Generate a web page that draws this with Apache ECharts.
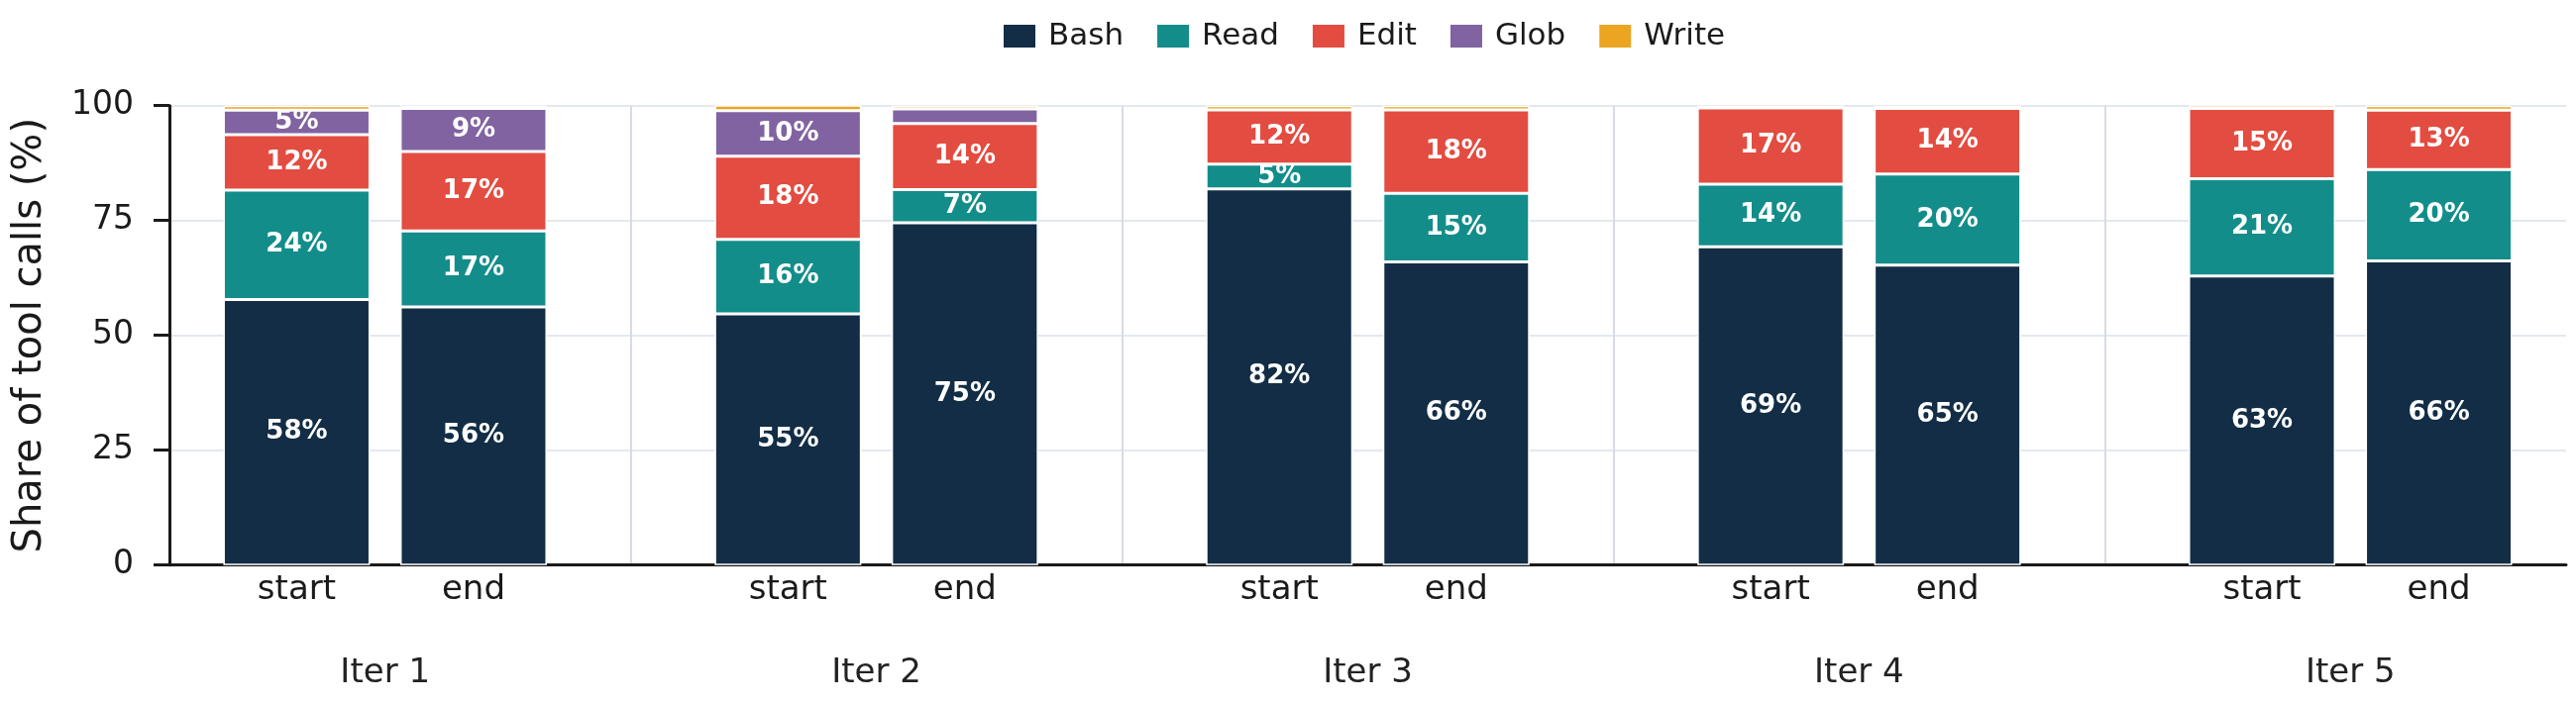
<!DOCTYPE html>
<html lang="en">
<head>
<meta charset="UTF-8">
<title>Share of tool calls by iteration</title>
<script src="https://cdn.jsdelivr.net/npm/echarts@6/dist/echarts.min.js"></script>
<style>
  html, body { margin: 0; padding: 0; background: #fff; }
  #chart { width: 2600px; height: 711px; }
</style>
</head>
<body>
<div id="chart"></div>
<script>
  // categories
  var iterations = ['Iter 1', 'Iter 2', 'Iter 3', 'Iter 4', 'Iter 5'];
  var phases = ['start', 'end'];
  var tools = ['Bash', 'Read', 'Edit', 'Glob', 'Write'];
  var colors = ['#122d45', '#138d8a', '#e34c40', '#8063a0', '#eba520'];

  // share per bar, order: Iter1 start, Iter1 end, Iter2 start, ...
  var bash  = [57.8, 56.2, 54.7, 74.5, 81.9, 66.0, 69.3, 65.3, 62.9, 66.2];
  var read  = [23.8, 16.5, 16.2,  7.2,  5.4, 14.9, 13.6, 19.8, 21.2, 19.9];
  var edit  = [12.1, 17.3, 18.1, 14.4, 11.8, 18.2, 16.6, 14.3, 15.3, 12.9];
  var glob  = [ 5.3,  9.4,  9.9,  3.2,  0.0,  0.0,  0.0,  0.0,  0.0,  0.0];
  var write = [ 1.0,  0.6,  1.2,  0.7,  0.9,  0.9,  0.5,  0.6,  0.7,  1.0];
  var shares = [bash, read, edit, glob, write];

  // y ticks
  var yTicks = [0, 25, 50, 75, 100];

  // x positions: group i centred at i + 0.5, group separators at integers
  var phaseOffset = 0.18;
  var edgePad = 0.439;
  var barX = [];
  var barPhase = [];
  iterations.forEach(function (it, i) {
    phases.forEach(function (ph, j) {
      barX.push(i + 0.5 + (j === 0 ? -phaseOffset : phaseOffset));
      barPhase.push(ph);
    });
  });
  var iterX = iterations.map(function (it, i) { return i + 0.5; });
  var xMin = 0.5 - edgePad;
  var xMax = iterations.length - 0.5 + edgePad;

  function findIndex(arr, v) {
    for (var k = 0; k < arr.length; k++) {
      if (Math.abs(arr[k] - v) < 1e-6) return k;
    }
    return -1;
  }

  var font = 'DejaVu Sans';
  var chart = echarts.init(document.getElementById('chart'), null, { renderer: 'canvas' });

  // value first so the stack runs on y; x is the second column
  var series = tools.map(function (name, s) {
    return {
      name: name,
      type: 'bar',
      stack: 'total',
      xAxisIndex: 0,
      barWidth: 148,
      encode: { x: 1, y: 0 },
      data: barX.map(function (x, k) { return [shares[s][k], x]; }),
      itemStyle: { color: colors[s], borderColor: '#ffffff', borderWidth: 1.5 },
      label: {
        show: true,
        position: 'inside',
        color: '#ffffff',
        fontFamily: font,
        fontWeight: 'bold',
        fontSize: 26,
        formatter: function (p) {
          var v = p.value[0];
          return v >= 4 ? Math.round(v) + '%' : '';
        }
      },
      emphasis: { disabled: true }
    };
  });

  chart.setOption({
    animation: false,
    backgroundColor: '#ffffff',
    textStyle: { fontFamily: font },
    legend: {
      data: tools,
      left: 1013,
      top: 21,
      padding: 0,
      itemWidth: 32,
      itemHeight: 23,
      itemGap: 34,
      icon: 'rect',
      itemStyle: { borderWidth: 0 },
      textStyle: { fontSize: 31, color: '#1a1a1a', fontFamily: font, padding: [0, 0, 0, 8] }
    },
    grid: { left: 171, right: 10, top: 106.7, bottom: 140.3 },
    xAxis: [
      {
        type: 'value',
        min: xMin,
        max: xMax,
        minInterval: 1,
        maxInterval: 1,
        axisLine: { show: true, onZero: false, lineStyle: { color: '#1a1a1a', width: 3 } },
        axisTick: { show: false },
        axisLabel: { show: false },
        splitLine: {
          show: true,
          showMinLine: false,
          showMaxLine: false,
          lineStyle: { color: '#d6dbe4', width: 2 }
        }
      },
      {
        type: 'value',
        min: xMin,
        max: xMax,
        position: 'bottom',
        axisLine: { show: false },
        axisTick: { show: false },
        splitLine: { show: false },
        axisLabel: {
          show: true,
          customValues: barX,
          margin: 8,
          fontSize: 34,
          color: '#1a1a1a',
          fontFamily: font,
          formatter: function (v) {
            var k = findIndex(barX, v);
            return k >= 0 ? barPhase[k] : '';
          }
        }
      },
      {
        type: 'value',
        min: xMin,
        max: xMax,
        position: 'bottom',
        axisLine: { show: false },
        axisTick: { show: false },
        splitLine: { show: false },
        axisLabel: {
          show: true,
          customValues: iterX,
          margin: 92,
          fontSize: 34,
          color: '#222222',
          fontFamily: font,
          formatter: function (v) {
            var k = findIndex(iterX, v);
            return k >= 0 ? iterations[k] : '';
          }
        }
      }
    ],
    yAxis: {
      type: 'value',
      min: yTicks[0],
      max: yTicks[yTicks.length - 1],
      interval: yTicks[1] - yTicks[0],
      name: 'Share of tool calls (%)',
      nameLocation: 'middle',
      nameGap: 120,
      nameTextStyle: { fontSize: 40, color: '#1a1a1a', fontFamily: font },
      axisLine: { show: true, lineStyle: { color: '#1a1a1a', width: 3 } },
      axisTick: { show: true, length: 16, lineStyle: { color: '#1a1a1a', width: 3 } },
      axisLabel: { margin: 36, fontSize: 33, color: '#1a1a1a', fontFamily: font },
      splitLine: { show: true, lineStyle: { color: '#e4e8ee', width: 2 } }
    },
    series: series
  });
</script>
</body>
</html>
